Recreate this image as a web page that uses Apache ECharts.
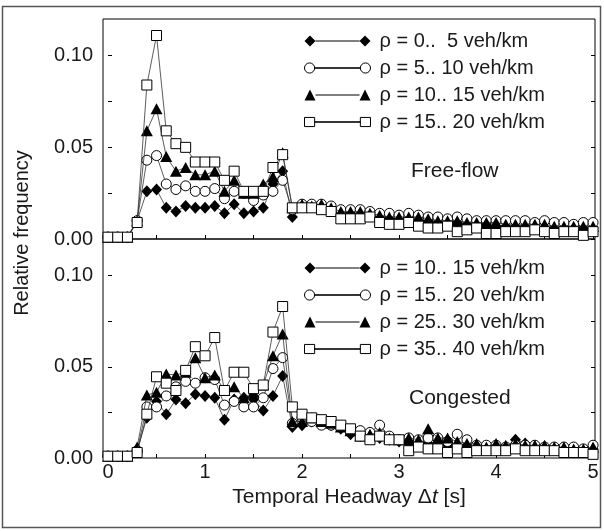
<!DOCTYPE html>
<html>
<head>
<meta charset="utf-8">
<script src="https://cdn.jsdelivr.net/npm/echarts@6.0.0/dist/echarts.min.js"></script>
<style>
html,body{margin:0;padding:0;background:#fff;}
#c{width:604px;height:531px;}
</style>
</head>
<body>
<div id="c"></div>
<script>
// Temporal headway bins (s)
const headway = [0.0,0.1,0.2,0.3,0.4,0.5,0.6,0.7,0.8,0.9,1.0,1.1,1.2,1.3,1.4,1.5,1.6,1.7,1.8,1.9,2.0,2.1,2.2,2.3,2.4,2.5,2.6,2.7,2.8,2.9,3.0,3.1,3.2,3.3,3.4,3.5,3.6,3.7,3.8,3.9,4.0,4.1,4.2,4.3,4.4,4.5,4.6,4.7,4.8,4.9,5.0];

// Free-flow panel
const freeRho0_5 = [0.001,0.001,0.001,0.010,0.026,0.027,0.017,0.015,0.018,0.017,0.017,0.018,0.014,0.019,0.014,0.015,0.017,0.030,0.037,0.012,0.018,0.018,0.017,0.016,0.014,0.014,0.013,0.013,0.012,0.011,0.011,0.011,0.010,0.010,0.009,0.009,0.009,0.008,0.008,0.008,0.007,0.007,0.007,0.007,0.007,0.006,0.006,0.006,0.006,0.006,0.006];
const freeRho5_10 = [0.001,0.001,0.001,0.010,0.043,0.0455,0.030,0.027,0.029,0.026,0.026,0.0275,0.022,0.026,0.025,0.021,0.024,0.026,0.032,0.016,0.019,0.019,0.019,0.018,0.016,0.016,0.016,0.015,0.014,0.014,0.013,0.014,0.013,0.012,0.012,0.011,0.012,0.011,0.010,0.010,0.010,0.010,0.010,0.010,0.009,0.010,0.009,0.009,0.008,0.009,0.009];
const freeRho10_15 = [0.001,0.001,0.001,0.010,0.059,0.071,0.045,0.037,0.039,0.035,0.035,0.037,0.026,0.032,0.025,0.025,0.030,0.034,0.047,0.017,0.019,0.018,0.019,0.017,0.015,0.015,0.015,0.014,0.013,0.012,0.012,0.012,0.012,0.011,0.010,0.010,0.010,0.009,0.009,0.009,0.009,0.008,0.008,0.008,0.008,0.008,0.007,0.007,0.007,0.007,0.007];
const freeRho15_20 = [0.001,0.001,0.001,0.009,0.084,0.111,0.059,0.052,0.050,0.042,0.042,0.042,0.032,0.037,0.026,0.026,0.026,0.039,0.046,0.017,0.017,0.017,0.016,0.015,0.011,0.011,0.011,0.012,0.009,0.008,0.008,0.009,0.007,0.006,0.006,0.007,0.004,0.005,0.006,0.003,0.003,0.004,0.004,0.004,0.005,0.004,0.003,0.004,0.004,0.002,0.004];

// Congested panel
const congRho10_15 = [0.001,0.001,0.001,0.004,0.022,0.031,0.024,0.032,0.030,0.035,0.034,0.033,0.021,0.032,0.033,0.032,0.026,0.034,0.045,0.017,0.018,0.020,0.019,0.018,0.016,0.013,0.012,0.012,0.011,0.010,0.009,0.008,0.009,0.008,0.008,0.007,0.006,0.007,0.006,0.006,0.006,0.006,0.010,0.008,0.006,0.006,0.005,0.005,0.005,0.004,0.005];
const congRho15_20 = [0.001,0.001,0.001,0.004,0.028,0.028,0.034,0.039,0.042,0.041,0.044,0.043,0.029,0.031,0.028,0.028,0.033,0.049,0.055,0.019,0.022,0.020,0.018,0.018,0.017,0.015,0.015,0.014,0.018,0.012,0.010,0.011,0.010,0.011,0.011,0.009,0.013,0.010,0.007,0.007,0.007,0.006,0.007,0.007,0.007,0.006,0.006,0.006,0.006,0.005,0.007];
const congRho25_30 = [0.001,0.001,0.001,0.006,0.0345,0.036,0.046,0.0455,0.047,0.055,0.044,0.0455,0.037,0.039,0.033,0.036,0.040,0.056,0.068,0.020,0.020,0.022,0.020,0.019,0.017,0.015,0.012,0.013,0.014,0.011,0.010,0.011,0.010,0.016,0.011,0.011,0.009,0.008,0.008,0.006,0.008,0.007,0.008,0.007,0.007,0.007,0.006,0.006,0.005,0.005,0.006];
const congRho35_40 = [0.001,0.001,0.001,0.003,0.024,0.0445,0.041,0.037,0.048,0.061,0.056,0.066,0.037,0.047,0.047,0.038,0.040,0.069,0.083,0.028,0.024,0.022,0.021,0.020,0.018,0.016,0.012,0.010,0.012,0.010,0.010,0.004,0.006,0.005,0.005,0.003,0.005,0.003,0.004,0.004,0.004,0.004,0.005,0.004,0.004,0.004,0.004,0.003,0.003,0.003,0.002];

// Legend labels
const freeLabels = ['\u03c1 = 0..  5 veh/km','\u03c1 = 5.. 10 veh/km','\u03c1 = 10.. 15 veh/km','\u03c1 = 15.. 20 veh/km'];
const congLabels = ['\u03c1 = 10.. 15 veh/km','\u03c1 = 15.. 20 veh/km','\u03c1 = 25.. 30 veh/km','\u03c1 = 35.. 40 veh/km'];

// Tick values
const xLabelTicks = [0,1,2,3,4,5];
const xMinorTicks = [0,0.5,1,1.5,2,2.5,3,3.5,4,4.5,5];
const yLabelTicks = [0,0.05,0.10];
const yMinorTicks = [0,0.025,0.05,0.075,0.10];

const FONT = 'Liberation Sans, Arial, sans-serif';
const INK = '#1a1a1a';
const FS = 20;

const pair = (ys) => headway.map((x, i) => [x, ys[i]]);

const markerDefs = [
  {symbol:'diamond', size:[11,12], fill:'#000'},
  {symbol:'circle', size:10, fill:'#fff'},
  {symbol:'triangle', size:[12,11], fill:'#000'},
  {symbol:'rect', size:10, fill:'#fff'}
];
const icons = [
  'path://M0,5.5 L5.5,0 L11,5.5 L5.5,11 Z M11,5 L55,5 L55,6 L11,6 Z M55,5.5 L60.5,0 L66,5.5 L60.5,11 Z',
  'path://M0.5,5.5 A5,5 0 1,1 10.5,5.5 A5,5 0 1,1 0.5,5.5 Z M10.5,5.3 L55.5,5.3 L55.5,5.7 L10.5,5.7 Z M55.5,5.5 A5,5 0 1,1 65.5,5.5 A5,5 0 1,1 55.5,5.5 Z',
  'path://M0,11 L5.5,0 L11,11 Z M11,5 L55,5 L55,6 L11,6 Z M55,11 L60.5,0 L66,11 Z',
  'path://M0.5,1 L10.5,1 L10.5,10 L0.5,10 Z M10.5,5.3 L55.5,5.3 L55.5,5.7 L10.5,5.7 Z M55.5,1 L65.5,1 L65.5,10 L55.5,10 Z'
];

const freeSets = [freeRho0_5, freeRho5_10, freeRho10_15, freeRho15_20];
const congSets = [congRho10_15, congRho15_20, congRho25_30, congRho35_40];

const series = [];
freeSets.forEach((ys, i) => series.push(makeSeries('f' + i, ys, i, 0)));
congSets.forEach((ys, i) => series.push(makeSeries('c' + i, ys, i, 1)));

function makeSeries(name, ys, k, g) {
  const m = markerDefs[k];
  return {
    name: name, type: 'line', xAxisIndex: g, yAxisIndex: g * 2,
    data: pair(ys), symbol: m.symbol, symbolSize: m.size, showAllSymbol: true,
    clip: false, animation: false, color: '#000',
    lineStyle: {color: '#333', width: 0.8},
    itemStyle: {color: m.fill, borderColor: '#000', borderWidth: m.fill === '#fff' ? 1 : 0},
    emphasis: {disabled: true}, z: 2 + k
  };
}

const labelMap = {};
freeLabels.forEach((t, i) => labelMap['f' + i] = t);
congLabels.forEach((t, i) => labelMap['c' + i] = t);

function legendFor(prefix, top) {
  return {
    orient: 'vertical', left: 299, top: top, itemWidth: 66, itemHeight: 11, itemGap: 7,
    selectedMode: false,
    data: [0,1,2,3].map(i => ({
      name: prefix + i, icon: icons[i],
      itemStyle: {color: markerDefs[i].fill, borderColor: '#000', borderWidth: markerDefs[i].fill === '#fff' ? 1 : 0}
    })),
    formatter: n => labelMap[n],
    textStyle: {fontFamily: FONT, fontSize: 20, color: INK, padding: [0,0,0,4]}
  };
}

function xAxisFor(g, showLabels) {
  return {
    type: 'value', gridIndex: g, min: -0.052, max: 5.02,
    axisLine: {show: false},
    axisTick: {show: true, inside: true, length: 4, customValues: xMinorTicks, lineStyle: {color: '#000'}},
    axisLabel: {show: showLabels, customValues: xLabelTicks, fontFamily: FONT, fontSize: FS, color: INK, margin: 4},
    splitLine: {show: false},
    name: showLabels ? '{a|Temporal Headway \u0394}{b|t}{a| [s]}' : '',
    nameLocation: 'middle', nameGap: 29,
    nameTextStyle: {rich: {a: {fontFamily: FONT, fontSize: 21, color: INK}, b: {fontFamily: FONT, fontSize: 21, color: INK, fontStyle: 'italic'}}}
  };
}
function yAxisFor(g, pos) {
  const left = pos === 'left';
  return {
    type: 'value', gridIndex: g, position: pos, min: 0, max: 0.12,
    axisLine: {show: false},
    axisTick: {show: true, inside: true, length: 4, customValues: yMinorTicks, lineStyle: {color: '#000'}},
    axisLabel: {show: left, customValues: yLabelTicks, formatter: v => v.toFixed(2), fontFamily: FONT, fontSize: FS, color: INK, margin: 10},
    splitLine: {show: false}
  };
}

const option = {
  backgroundColor: '#fff',
  animation: false,
  grid: [
    {left: 103, top: 19, width: 492, height: 220, show: true, borderColor: '#000', borderWidth: 1, backgroundColor: 'transparent'},
    {left: 103, top: 239, width: 492, height: 219, show: true, borderColor: '#000', borderWidth: 1, backgroundColor: 'transparent'}
  ],
  xAxis: [xAxisFor(0, false), xAxisFor(1, true)],
  yAxis: [yAxisFor(0, 'left'), yAxisFor(0, 'right'), yAxisFor(1, 'left'), yAxisFor(1, 'right')],
  legend: [legendFor('f', 26), legendFor('c', 253)],
  series: series,
  graphic: [
    {type: 'rect', shape: {x: 2.5, y: 6.5, width: 598, height: 521}, style: {fill: 'none', stroke: '#555', lineWidth: 1.5}, silent: true},
    {type: 'text', left: 411, top: 161, style: {text: 'Free-flow', font: '21px ' + FONT, fill: INK}},
    {type: 'text', left: 409, top: 388, style: {text: 'Congested', font: '21px ' + FONT, fill: INK}},
    {type: 'text', x: 22, y: 233, rotation: Math.PI / 2, style: {text: 'Relative frequency', font: FS + 'px ' + FONT, fill: INK, align: 'center', verticalAlign: 'middle'}}
  ]
};

const chart = echarts.init(document.getElementById('c'));
chart.setOption(option);
</script>
</body>
</html>
